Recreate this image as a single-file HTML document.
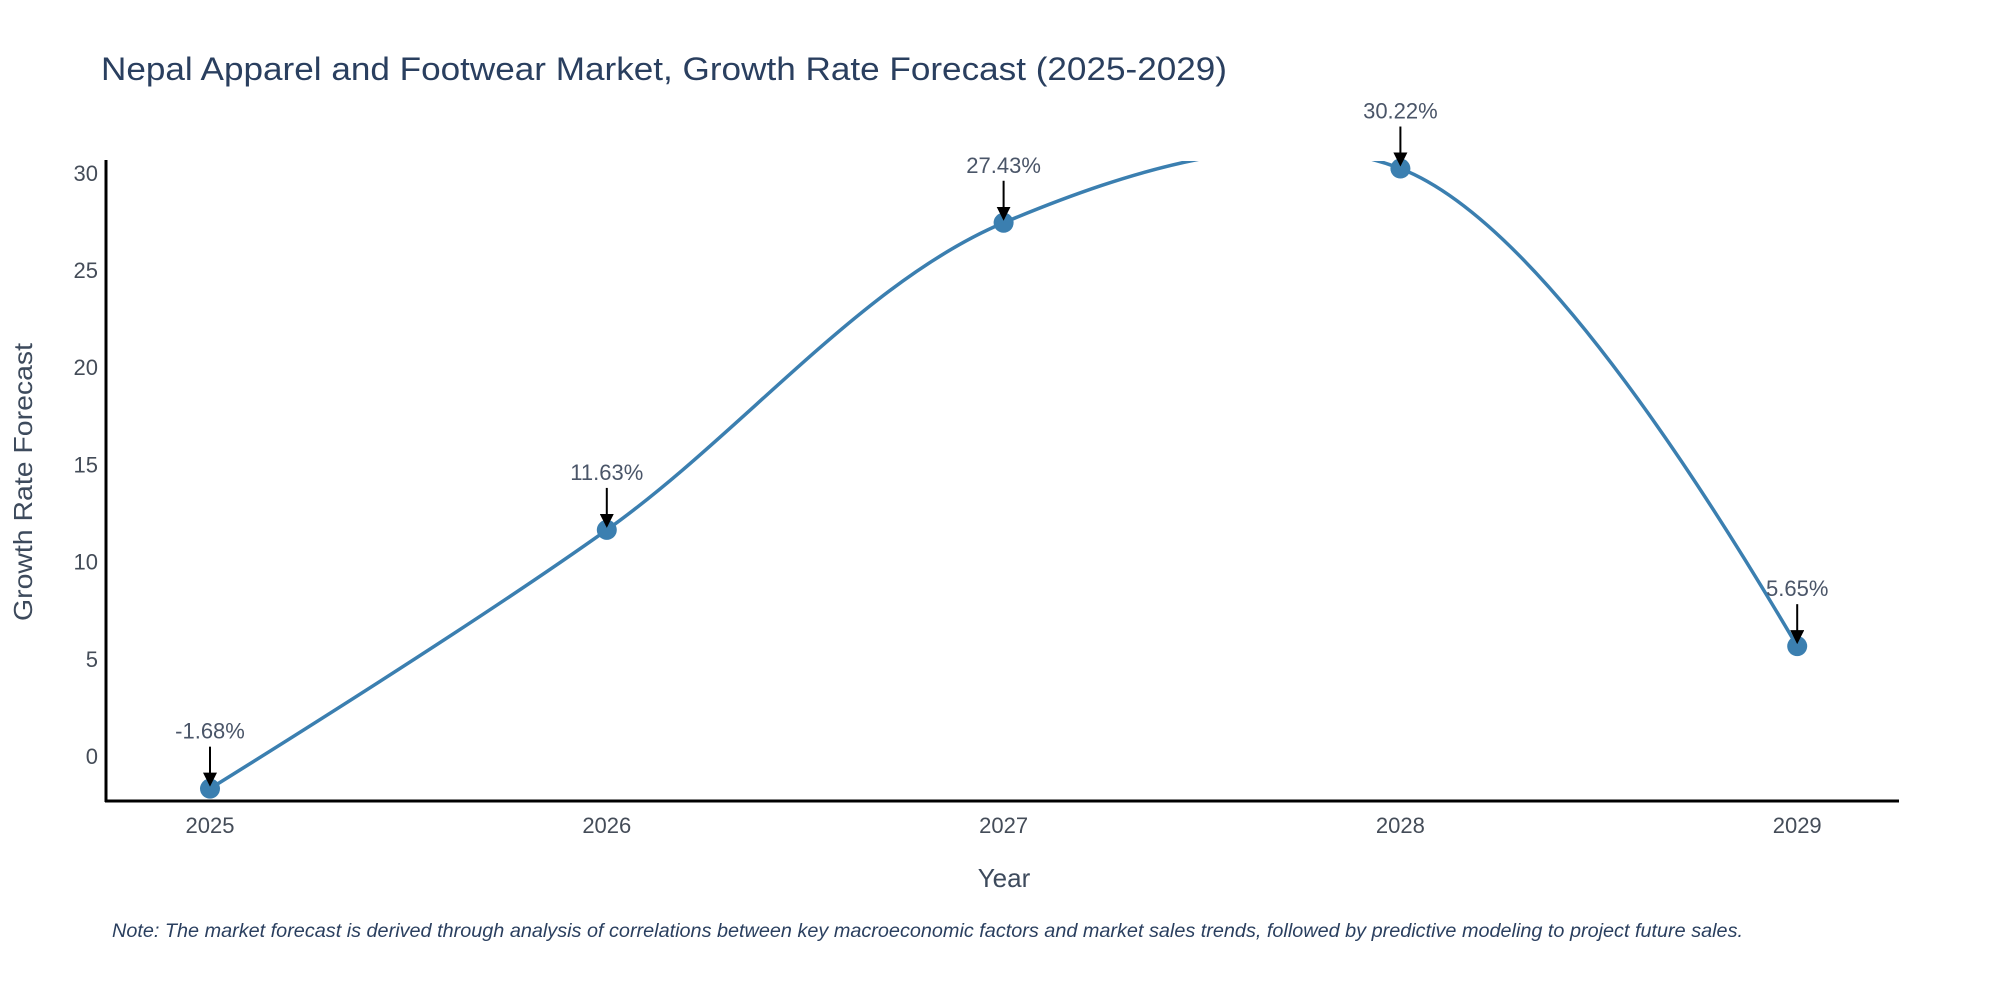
<!DOCTYPE html>
<html>
<head>
<meta charset="utf-8">
<style>
  html,body{margin:0;padding:0;background:#fff;}
  svg{display:block;font-family:"Liberation Sans",sans-serif;}
</style>
</head>
<body>
<svg id="chart" width="2000" height="1000" viewBox="0 0 2000 1000" xmlns="http://www.w3.org/2000/svg">
  <defs>
    <clipPath id="plot-clip"><rect x="106" y="161" width="1793" height="640"/></clipPath>
    <marker id="arrowhead" markerWidth="14" markerHeight="14" refX="12" refY="7" orient="auto" markerUnits="userSpaceOnUse" viewBox="0 0 14 14">
      <path d="M0,0 L14,7 L0,14 Z" fill="#000"/>
    </marker>
  </defs>
  <text x="101" y="80" font-size="32" fill="#2a3f5f" textLength="1126" lengthAdjust="spacingAndGlyphs">Nepal Apparel and Footwear Market, Growth Rate Forecast (2025-2029)</text>
  <g id="y-ticks"></g>
  <g id="x-ticks"></g>
  <g id="series" clip-path="url(#plot-clip)"></g>
  <g id="markers"></g>
  <g id="annotations"></g>
  <line x1="106" y1="160" x2="106" y2="802" stroke="#000" stroke-width="3"/>
  <line x1="105" y1="801" x2="1899" y2="801" stroke="#000" stroke-width="3"/>
  <text transform="translate(32,482) rotate(-90)" text-anchor="middle" font-size="26" fill="#3d4a5c" textLength="278" lengthAdjust="spacingAndGlyphs">Growth Rate Forecast</text>
  <text x="1004" y="887" text-anchor="middle" font-size="26" fill="#3d4a5c">Year</text>
  <text x="112" y="937" font-size="19" font-style="italic" fill="#2a3f5f" textLength="1631" lengthAdjust="spacingAndGlyphs">Note: The market forecast is derived through analysis of correlations between key macroeconomic factors and market sales trends, followed by predictive modeling to project future sales.</text>
</svg>
<script>
const years = [2025, 2026, 2027, 2028, 2029];
const values = [-1.68, 11.63, 27.43, 30.22, 5.65];
const valueLabels = ["-1.68%", "11.63%", "27.43%", "30.22%", "5.65%"];
const yTicks = [0, 5, 10, 15, 20, 25, 30];

const NS = "http://www.w3.org/2000/svg";
const X0 = 210, XSTEP = 396.8;
const Y0 = 756, YUNIT = 19.44;
function xScale(yr){ return X0 + (yr - years[0]) * XSTEP; }
function yScale(v){ return Y0 - v * YUNIT; }
function mk(tag, attrs, parent){
  const e = document.createElementNS(NS, tag);
  for (const k in attrs) e.setAttribute(k, attrs[k]);
  parent.appendChild(e);
  return e;
}

const yG = document.getElementById('y-ticks');
yTicks.forEach(t => {
  const el = mk('text', {x: 98, y: yScale(t) + 8, 'text-anchor': 'end', 'font-size': 22, fill: '#444c58'}, yG);
  
  
  el.textContent = t;
});
const xG = document.getElementById('x-ticks');
years.forEach(yr => {
  const el = mk('text', {x: xScale(yr), y: 833, 'text-anchor': 'middle', 'font-size': 22, fill: '#444c58'}, xG);
  
  
  el.textContent = yr;
});

// plotly-style spline
const pts = years.map((yr, i) => [xScale(yr), yScale(values[i])]);
function tangent(p, t, n, s){
  const d1x=p[0]-t[0], d1y=p[1]-t[1], d2x=n[0]-t[0], d2y=n[1]-t[1];
  const d1a=Math.pow(d1x*d1x+d1y*d1y,0.25), d2a=Math.pow(d2x*d2x+d2y*d2y,0.25);
  const nx=(d2a*d2a*d1x-d1a*d1a*d2x)*s, ny=(d2a*d2a*d1y-d1a*d1a*d2y)*s;
  const den1=3*d2a*(d1a+d2a), den2=3*d1a*(d1a+d2a);
  return [[t[0]+nx/den1, t[1]+ny/den1],[t[0]-nx/den2, t[1]-ny/den2]];
}
const tans = [];
for (let i = 1; i < pts.length - 1; i++) tans.push(tangent(pts[i-1], pts[i], pts[i+1], 1));
let d = 'M' + pts[0] + 'Q' + tans[0][0] + ' ' + pts[1];
for (let i = 2; i < pts.length - 1; i++) d += 'C' + tans[i-2][1] + ' ' + tans[i-1][0] + ' ' + pts[i];
d += 'Q' + tans[pts.length-3][1] + ' ' + pts[pts.length-1];
const line = mk('path', {d: d, fill: 'none', stroke: '#3b7fb0', 'stroke-width': 3.5}, document.getElementById('series'));



const mG = document.getElementById('markers');
const aG = document.getElementById('annotations');
pts.forEach((p, i) => {
  const c = mk('circle', {cx: p[0], cy: p[1], r: 10, fill: '#3b7fb0'}, mG);
  
  
  const a = mk('line', {x1: p[0], y1: p[1] - 42, x2: p[0], y2: p[1] - 4, stroke: '#000', 'stroke-width': 2, 'marker-end': 'url(#arrowhead)'}, aG);
  
  
  const t = mk('text', {x: p[0], y: p[1] - 50, 'text-anchor': 'middle', 'font-size': 22, fill: '#4a5568'}, aG);
  
  
  t.textContent = valueLabels[i];
});
</script>
</body>
</html>
